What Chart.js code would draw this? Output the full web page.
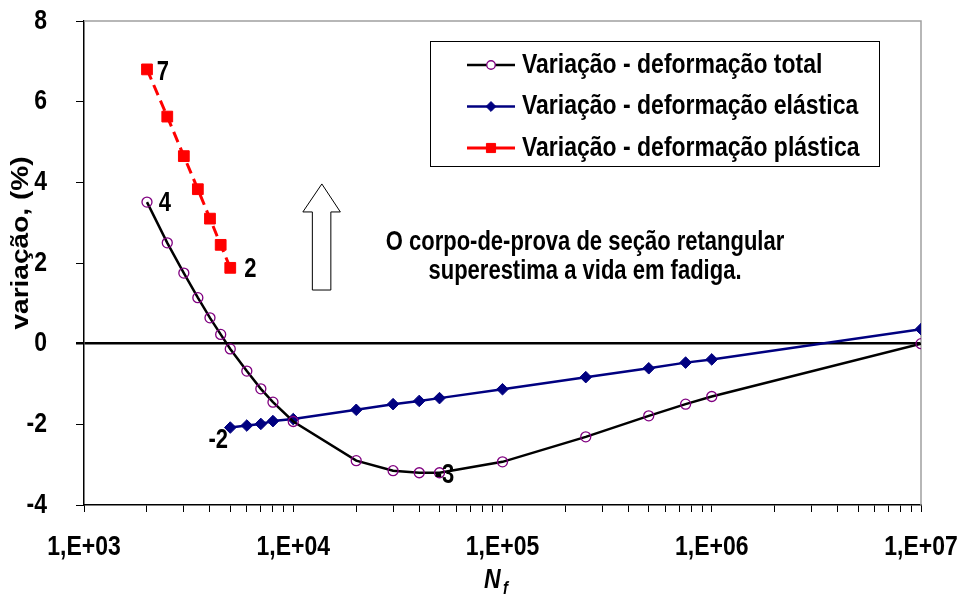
<!DOCTYPE html>
<html>
<head>
<meta charset="utf-8">
<script src="https://cdn.jsdelivr.net/npm/chart.js@4.4.1/dist/chart.umd.min.js"></script>
<style>
  html, body { margin: 0; padding: 0; background: #fff; }
  #wrap { width: 962px; height: 597px; }
</style>
</head>
<body>
<div id="wrap"><canvas id="c" width="962" height="597"></canvas></div>
<script>
// Fatigue life (cycles) and life variation (%) for each strain component
const totalCycles = [2e3, 2.5e3, 3e3, 3.5e3, 4e3, 4.5e3, 5e3, 6e3, 7e3, 8e3, 1e4, 2e4, 3e4, 4e4, 5e4, 1e5, 2.5e5, 5e5, 7.5e5, 1e6, 1e7];
const totalVar    = [3.51, 2.50, 1.75, 1.14, 0.64, 0.23, -0.13, -0.68, -1.12, -1.45, -1.93, -2.90, -3.15, -3.20, -3.20, -2.93, -2.31, -1.79, -1.50, -1.31, 0.00];

const elasticCycles = [5e3, 6e3, 7e3, 8e3, 1e4, 2e4, 3e4, 4e4, 5e4, 1e5, 2.5e5, 5e5, 7.5e5, 1e6, 1e7];
const elasticVar    = [-2.08, -2.03, -1.99, -1.92, -1.87, -1.64, -1.50, -1.42, -1.35, -1.13, -0.83, -0.61, -0.47, -0.39, 0.36];

const plasticCycles = [2e3, 2.5e3, 3e3, 3.5e3, 4e3, 4.5e3, 5e3];
const plasticVar    = [6.80, 5.63, 4.65, 3.83, 3.10, 2.45, 1.88];

const seriesNames = ['Variação - deformação total', 'Variação - deformação elástica', 'Variação - deformação plástica'];

// Axis ticks
const xTickValues = [1e3, 1e4, 1e5, 1e6, 1e7];
const xTickLabels = ['1,E+03', '1,E+04', '1,E+05', '1,E+06', '1,E+07'];
const yTickValues = [-4, -2, 0, 2, 4, 6, 8];
const yTickLabels = ['-4', '-2', '0', '2', '4', '6', '8'];

const yTitle = 'variação, (%)';
const noteLines = ['O corpo-de-prova de seção retangular', 'superestima a vida em fadiga.'];

// Which points carry a value label: [dataset index, point index]
const labelledPoints = [[2, 0], [0, 0], [2, 6], [1, 0], [0, 14]];
// label offsets (px) from the point, same order
const labelOffsets = [[16, 3], [18, 2], [20, 2], [-12, 13], [5, 3]];

const FONT = '"Liberation Sans", Arial, sans-serif';
const SY = 1.22; // vertical text stretch

function txt(ctx, s, x, y, size, align, opts) {
  opts = opts || {};
  ctx.save();
  ctx.font = (opts.italic ? 'italic ' : '') + 'bold ' + size + 'px ' + FONT;
  ctx.fillStyle = '#000';
  ctx.textAlign = align;
  ctx.textBaseline = 'middle';
  ctx.translate(x, y);
  if (opts.rotate) ctx.rotate(opts.rotate);
  if (opts.rotate) ctx.scale(SY, 1); else ctx.scale(1, SY);
  ctx.fillText(s, 0, 0);
  ctx.restore();
}

const minorTicks = [];
for (let e = 3; e < 7; e++) for (let m = 1; m < 10; m++) minorTicks.push(m * Math.pow(10, e));
minorTicks.push(1e7);

const decor = {
  id: 'decor',
  beforeDatasetsDraw(chart) {
    const { ctx, chartArea: a } = chart;
    // plot area frame (top and right)
    ctx.save();
    ctx.strokeStyle = '#a0a0a0';
    ctx.lineWidth = 1.5;
    ctx.beginPath();
    ctx.moveTo(a.left, a.top);
    ctx.lineTo(a.right, a.top);
    ctx.lineTo(a.right, a.bottom);
    ctx.stroke();
    ctx.restore();
  },
  afterDraw(chart) {
    const { ctx, chartArea: a, scales: { x, y } } = chart;

    // tick labels
    yTickValues.forEach((v, i) => txt(ctx, yTickLabels[i], a.left - 37, y.getPixelForValue(v), 23, 'right'));
    xTickValues.forEach((v, i) => txt(ctx, xTickLabels[i], x.getPixelForValue(v), a.bottom + 42, 23, 'center'));

    // axis titles
    txt(ctx, yTitle, 22, (a.top + a.bottom) / 2 - 20, 23, 'center', { rotate: -Math.PI / 2 });
    txt(ctx, 'N', 484, 580, 23, 'left', { italic: true });
    txt(ctx, 'f', 503, 589, 15, 'left', { italic: true });

    // value labels
    labelledPoints.forEach(([d, p], k) => {
      const el = chart.getDatasetMeta(d).data[p];
      const v = chart.data.datasets[d].data[p].y;
      txt(ctx, String(Math.round(v)), el.x + labelOffsets[k][0], el.y + labelOffsets[k][1], 22, 'center');
    });

    // note and hollow arrow
    noteLines.forEach((s, i) => txt(ctx, s, 585, 243 + i * 29, 22, 'center'));
    const ax = x.getPixelForValue(1.37e4), tip = y.getPixelForValue(3.96), base = y.getPixelForValue(1.33);
    ctx.save();
    ctx.beginPath();
    ctx.moveTo(ax, tip);
    ctx.lineTo(ax + 18.5, tip + 28);
    ctx.lineTo(ax + 9, tip + 28);
    ctx.lineTo(ax + 9, base);
    ctx.lineTo(ax - 9.5, base);
    ctx.lineTo(ax - 9.5, tip + 28);
    ctx.lineTo(ax - 19, tip + 28);
    ctx.closePath();
    ctx.fillStyle = '#fff';
    ctx.fill();
    ctx.strokeStyle = '#000';
    ctx.lineWidth = 1;
    ctx.stroke();
    ctx.restore();

    // legend
    ctx.save();
    ctx.strokeStyle = '#000';
    ctx.lineWidth = 1;
    ctx.strokeRect(430.5, 41.5, 449, 125);
    ctx.restore();
    const rows = [65, 106.5, 148];
    chart.data.datasets.forEach((ds, i) => {
      const yy = rows[i];
      ctx.save();
      ctx.strokeStyle = ds.borderColor;
      ctx.lineWidth = ds.borderWidth;
      ctx.beginPath();
      ctx.moveTo(467, yy);
      ctx.lineTo(515, yy);
      ctx.stroke();
      ctx.restore();
      ctx.save();
      ctx.fillStyle = i === 0 ? '#fff' : ds.pointBackgroundColor;
      ctx.strokeStyle = ds.pointBorderColor;
      ctx.lineWidth = ds.pointBorderWidth;
      Chart.helpers.drawPoint(ctx, { pointStyle: ds.pointStyle, radius: ds.pointRadius * 0.85, borderWidth: ds.pointBorderWidth }, 491, yy);
      ctx.restore();
      txt(ctx, seriesNames[i], 522, yy, 23, 'left');
    });
  }
};

const toXY = (xs, ys) => xs.map((v, i) => ({ x: v, y: ys[i] }));

new Chart(document.getElementById('c').getContext('2d'), {
  type: 'line',
  data: {
    datasets: [
      {
        label: seriesNames[0], data: toXY(totalCycles, totalVar),
        borderColor: '#000000', borderWidth: 2.5,
        pointStyle: 'circle', pointRadius: 5, pointBorderWidth: 1.3,
        pointBorderColor: '#800080', pointBackgroundColor: 'rgba(255,255,255,0)'
      },
      {
        label: seriesNames[1], data: toXY(elasticCycles, elasticVar),
        borderColor: '#000080', borderWidth: 2.5,
        pointStyle: 'rectRot', pointRadius: 5.8, pointBorderWidth: 1,
        pointBorderColor: '#000080', pointBackgroundColor: '#000080'
      },
      {
        label: seriesNames[2], data: toXY(plasticCycles, plasticVar),
        borderColor: '#ff0000', borderWidth: 3, borderDash: [11, 6],
        pointStyle: 'rect', pointRadius: 7.6, pointBorderWidth: 1,
        pointBorderColor: '#ff0000', pointBackgroundColor: '#ff0000'
      }
    ]
  },
  options: {
    responsive: false,
    animation: false,
    layout: { padding: { left: 0, right: 41, top: 21, bottom: 0 } },
    plugins: { legend: { display: false }, tooltip: { enabled: false } },
    elements: { line: { tension: 0 } },
    scales: {
      x: {
        type: 'logarithmic', min: 1e3, max: 1e7,
        afterBuildTicks(s) { s.ticks = minorTicks.map(v => ({ value: v, major: xTickValues.includes(v) })); },
        afterFit(s) { s.height = 92; },
        ticks: { autoSkip: false, maxRotation: 0, color: 'rgba(0,0,0,0)', callback: () => '' },
        grid: { drawOnChartArea: false, drawTicks: true, tickLength: 7, color: '#000', lineWidth: 1 },
        border: { color: '#000', width: 1.5 }
      },
      y: {
        min: -4, max: 8,
        afterBuildTicks(s) { s.ticks = yTickValues.map(v => ({ value: v })); },
        afterFit(s) { s.width = 84; },
        ticks: { color: 'rgba(0,0,0,0)', callback: () => '' },
        grid: {
          drawTicks: true, tickLength: 8,
          color: c => (c.tick && c.tick.value === 0 ? '#000' : 'rgba(0,0,0,0)'),
          lineWidth: c => (c.tick && c.tick.value === 0 ? 2.5 : 1),
          tickColor: '#000',
          tickWidth: c => (c.tick && c.tick.value === 0 ? 2.5 : 1)
        },
        border: { color: '#000', width: 1.5 }
      }
    }
  },
  plugins: [decor]
});
</script>
</body>
</html>
